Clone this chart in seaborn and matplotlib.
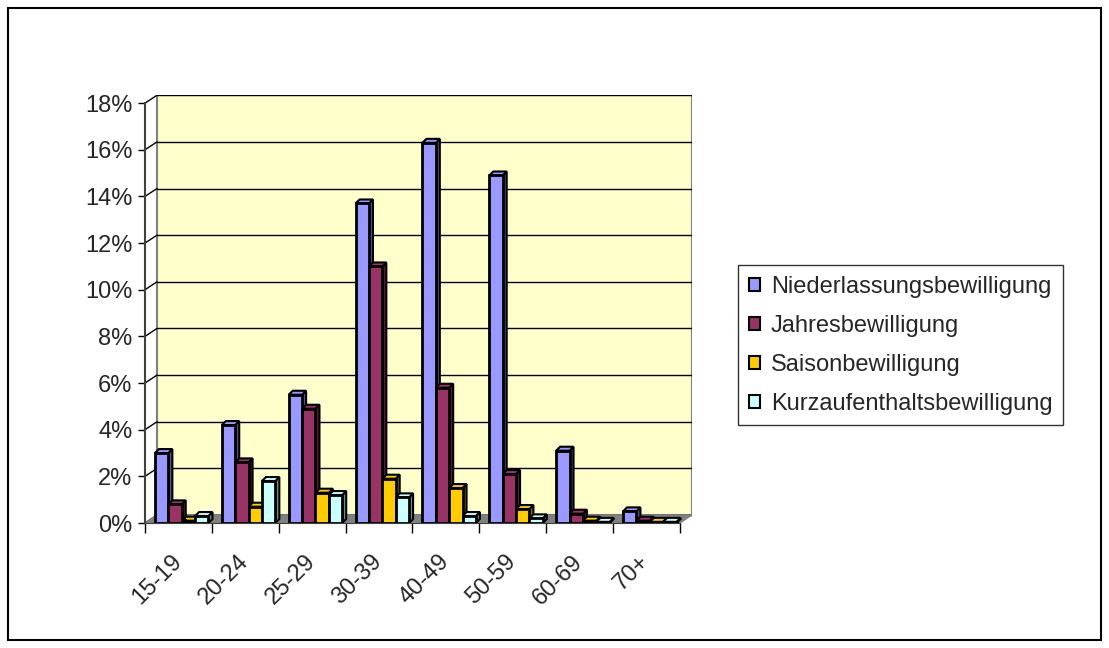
import pandas as pd
import matplotlib.pyplot as plt
import matplotlib.patches as mpatches
import matplotlib.transforms as mtransforms
import seaborn as sns

# age groups and share of permits per type (in %)
age_groups = ["15-19", "20-24", "25-29", "30-39", "40-49", "50-59", "60-69", "70+"]
niederlassung = [3.0, 4.2, 5.5, 13.7, 16.3, 14.9, 3.1, 0.5]
jahres = [0.8, 2.6, 4.9, 11.0, 5.8, 2.1, 0.4, 0.1]
saison = [0.1, 0.7, 1.3, 1.9, 1.5, 0.6, 0.1, 0.05]
kurz = [0.3, 1.8, 1.2, 1.1, 0.3, 0.2, 0.05, 0.05]

series_names = ["Niederlassungsbewilligung", "Jahresbewilligung",
                "Saisonbewilligung", "Kurzaufenthaltsbewilligung"]
colors = ["#9999FF", "#993366", "#FFCC00", "#CCFFFF"]

rows = []
for name, vals in zip(series_names, [niederlassung, jahres, saison, kurz]):
    for g, v in zip(age_groups, vals):
        rows.append({"Alter": g, "Bewilligung": name, "Anteil": v})
df = pd.DataFrame(rows)

sns.set_style("white")
plt.rcParams["font.family"] = ["Liberation Sans", "DejaVu Sans"]
FS = 17

fig = plt.figure(figsize=(11.09, 6.48), dpi=100)
ax = fig.add_axes([0.1307, 0.1929, 0.4932, 0.6605])
ax.set_facecolor("white")

# depth of the chart "box" (back wall offset) and of each bar
wx, wy = 0.18, 0.34
bx, by = 0.06, 0.17
x0, x1 = -0.5, 7.5

# back wall + floor
wall = mpatches.Rectangle((x0 + wx, wy), x1 - x0, 18.35, facecolor="#FFFFCC",
                          edgecolor="#808080", lw=1.5, zorder=0)
ax.add_patch(wall)
floor = mpatches.Polygon([(x0, 0), (x0 + wx, wy), (x1 + wx, wy), (x1, 0)], closed=True,
                         facecolor="#808080", edgecolor="#808080", lw=1, zorder=1)
ax.add_patch(floor)

yt = list(range(0, 19, 2))
for v in yt:
    ax.plot([x0 + wx, x1 + wx], [v + wy, v + wy], color="black", lw=1, zorder=0.5)
    ax.plot([x0, x0 + wx], [v, v + wy], color="black", lw=1, zorder=0.5)

sns.barplot(data=df, x="Alter", y="Anteil", hue="Bewilligung",
            palette=colors, saturation=1, width=0.8, gap=0, edgecolor="black",
            linewidth=2, ax=ax, zorder=3)

# fake 3d depth on each bar (side + top faces), bars sit a bit back on the floor
for bar in list(ax.patches):
    if not isinstance(bar, mpatches.Rectangle) or bar.get_zorder() != 3:
        continue
    bar.set_x(bar.get_x() + 0.05)
    x, w, h = bar.get_x(), bar.get_width(), bar.get_height()
    fc = bar.get_facecolor()
    dark = tuple(c * 0.55 for c in fc[:3])
    side = mpatches.Polygon([(x + w, 0), (x + w + bx, by), (x + w + bx, h + by), (x + w, h)],
                            closed=True, facecolor=dark, edgecolor="black", lw=1.5, zorder=2.9)
    top = mpatches.Polygon([(x, h), (x + bx, h + by), (x + w + bx, h + by), (x + w, h)],
                           closed=True, facecolor=fc, edgecolor="black", lw=1.5, zorder=2.9)
    ax.add_patch(side)
    ax.add_patch(top)

ax.set_xlim(x0, x1 + wx)
ax.set_ylim(0, 18.35)
ax.set_yticks(yt)
ax.set_yticklabels([f"{v}%" for v in yt], fontsize=FS)
ax.set_xticks(range(len(age_groups)))
ax.set_xticklabels(age_groups, rotation=45, ha="right", rotation_mode="anchor", fontsize=FS)
ax.set_xticks([x0 + i for i in range(9)], minor=True)
ax.tick_params(axis="x", which="major", length=0, pad=20)
ax.tick_params(axis="x", which="minor", length=7, width=1, bottom=True, color="black")
ax.tick_params(axis="y", length=5, width=1, left=True, color="black", pad=4)
shift = mtransforms.ScaledTranslation(-8 / 100, 0, fig.dpi_scale_trans)
for lab in ax.get_xticklabels():
    lab.set_transform(lab.get_transform() + shift)
ax.set_xlabel("")
ax.set_ylabel("")
for s in ["top", "right"]:
    ax.spines[s].set_visible(False)
ax.spines["left"].set_color("#404040")
ax.spines["left"].set_linewidth(1.5)
ax.spines["left"].set_bounds(0, 18)
ax.spines["bottom"].set_color("#404040")
ax.spines["bottom"].set_bounds(x0, x1)

leg = ax.legend(loc="upper left", bbox_to_anchor=(738 / 1109, 1 - 265 / 648),
                bbox_transform=fig.transFigure, frameon=True, fontsize=FS,
                handlelength=0.5, handleheight=0.5, handletextpad=0.45,
                borderpad=0.45, labelspacing=0.72, borderaxespad=0,
                fancybox=False, edgecolor="black")
leg.get_frame().set_linewidth(1)
for h in leg.legend_handles:
    h.set_edgecolor("black")
    h.set_linewidth(1.5)

# outer frame
fig.patches.append(mpatches.Rectangle((0.007, 0.012), 0.986, 0.976, transform=fig.transFigure,
                                      fill=False, edgecolor="black", lw=1.5))

fig.savefig("out.png", dpi=100)
